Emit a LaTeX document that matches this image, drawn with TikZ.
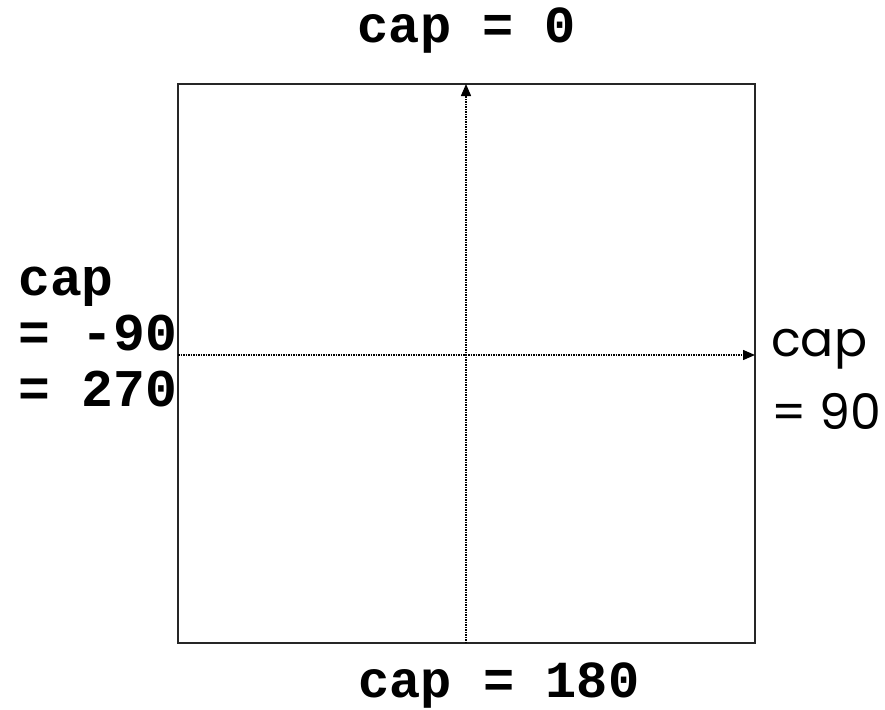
\documentclass[tikz,border=0pt]{standalone}
\usepackage{fontspec}
\setmonofont{Liberation Mono}
\newfontfamily\comicfont{Poppins}
\usetikzlibrary{arrows.meta,positioning}

\begin{document}
\begin{tikzpicture}[
			x=1pt,y=-1pt,
			lbl/.style={font=\fontsize{52}{57}\selectfont\ttfamily\bfseries,inner sep=0pt,anchor=base},
			lblside/.style={font=\fontsize{53}{57}\selectfont\ttfamily\bfseries,inner sep=0pt,anchor=base west},
			lblcomic/.style={font=\fontsize{49}{73}\selectfont\comicfont,inner sep=0pt,anchor=base west},
			box/.style={draw=black!85,line width=1.8pt},
			arr/.style={-{Triangle[length=12pt,width=10pt]},line width=1.4pt,dash pattern=on 1.5pt off 1pt}
			]
			\useasboundingbox (0,0) rectangle (885,709);
			\draw[box] (178,84) rectangle (755,643);
			\coordinate (south) at (466,643);
			\coordinate (north) at (466,84);
			\coordinate (west) at (178,355);
			\coordinate (east) at (755,355);
			\draw[arr] (south)--(north);
			\draw[arr] (west)--(east);
			\node[lbl] (cap0) at (467,42) {cap = 0};
			\node[lbl] (cap180) at (499,697) {cap = 180};
			\node[lblside] (capw) at (18,295) {cap};
			\node[lblside] (capw1) at (18,350) {= -90};
			\node[lblside] (capw2) at (18,406) {= 270};
			\node[lblcomic] (cape) at (771,356) {cap};
			\node[lblcomic] (cape1) at (771,429) {= 90};
		\end{tikzpicture}
\end{document}
